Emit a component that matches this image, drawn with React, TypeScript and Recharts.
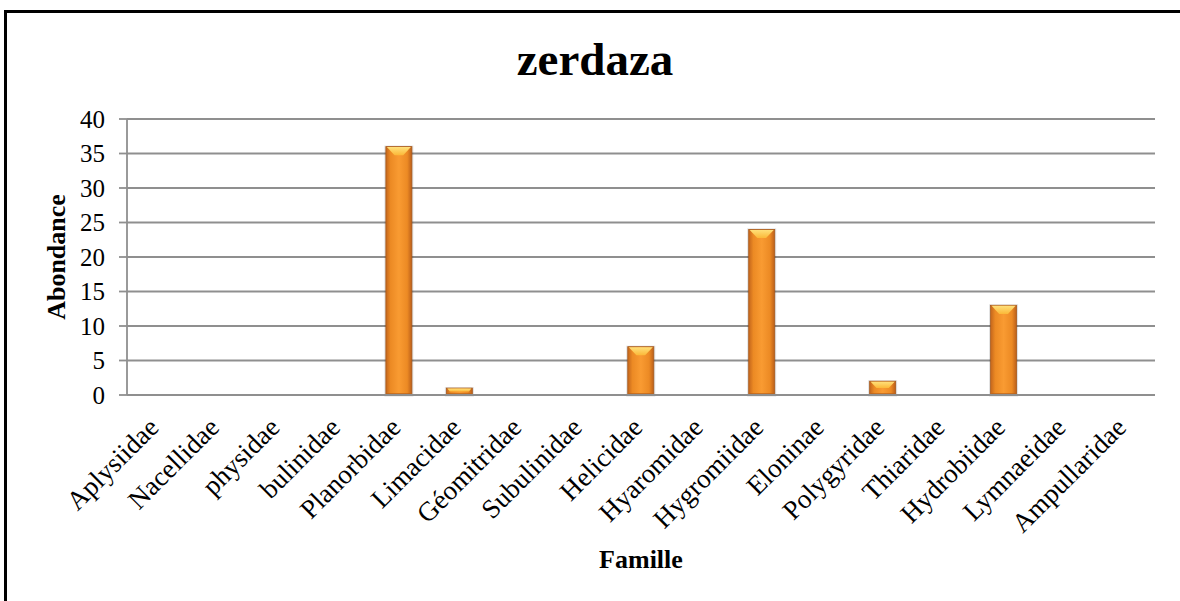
import React from 'react';
import { BarChart, Bar, XAxis, YAxis, CartesianGrid } from 'recharts';

const families = [
  'Aplysiidae', 'Nacellidae', 'physidae', 'bulinidae', 'Planorbidae', 'Limacidae',
  'Géomitridae', 'Subulinidae', 'Helicidae', 'Hyaromidae', 'Hygromiidae', 'Eloninae',
  'Polygyridae', 'Thiaridae', 'Hydrobiidae', 'Lymnaeidae', 'Ampullaridae',
];
const abundance = [0, 0, 0, 0, 36, 1, 0, 0, 7, 0, 24, 0, 2, 0, 13, 0, 0];
const yTicks = [0, 5, 10, 15, 20, 25, 30, 35, 40];
const title = 'zerdaza';
const xTitle = 'Famille';
const yTitle = 'Abondance';

const data = families.map((f, i) => ({ name: f, value: abundance[i] }));

const SERIF = '"Liberation Serif", "Times New Roman", serif';

const BarShape = (props: any) => {
  const { x, y, width, height } = props;
  if (!height || height <= 0) return null;
  const b = Math.min(10, height / 2, width / 3);
  return (
    <g>
      <rect x={x - 1.5} y={y - 1} width={width + 3} height={height + 2.5} fill="#000" opacity={0.12} />
      <rect x={x} y={y} width={width} height={height} fill="url(#barGrad)" stroke="#a85a1c" strokeWidth={0.8} />
      <polygon
        points={`${x + 1},${y + 0.5} ${x + width - 1},${y + 0.5} ${x + width - b},${y + b} ${x + b},${y + b}`}
        fill="url(#topGrad)"
      />
      <rect x={x + 1} y={y + height - 2} width={width - 2} height={2} fill="#b8621c" opacity={0.7} />
    </g>
  );
};

const XTick = (props: any) => {
  const { x, payload } = props;
  return (
    <g transform={`translate(${x + 3},${429})`}>
      <text x={0} y={0} textAnchor="end" transform="rotate(-45)" fontFamily={SERIF} fontSize={27} fill="#000">
        {payload.value}
      </text>
    </g>
  );
};

export default function App() {
  return (
    <div style={{ position: 'absolute', left: 0, top: 0, width: 1180, height: 601, background: '#fff', overflow: 'hidden' }}>
      <div style={{ position: 'absolute', left: 4, top: 10, width: 1400, height: 800, borderLeft: '3px solid #000', borderTop: '3px solid #000', boxSizing: 'border-box' }} />
      <div style={{ position: 'absolute', left: 0, top: 0 }}>
        <BarChart width={1180} height={601} data={data} margin={{ top: 119, right: 25, bottom: 0, left: 0 }} barCategoryGap={0}>
          <defs>
            <linearGradient id="barGrad" x1="0" y1="0" x2="1" y2="0">
              <stop offset="0" stopColor="#c4661c" />
              <stop offset="0.18" stopColor="#ec8a24" />
              <stop offset="0.5" stopColor="#f99b32" />
              <stop offset="0.82" stopColor="#ec8a24" />
              <stop offset="1" stopColor="#bb5f1a" />
            </linearGradient>
            <linearGradient id="topGrad" x1="0" y1="0" x2="0" y2="1">
              <stop offset="0" stopColor="#ffe07a" />
              <stop offset="1" stopColor="#fbb838" />
            </linearGradient>
          </defs>
          <CartesianGrid vertical={false} stroke="#8f8f8f" strokeWidth={1.8} />
          <XAxis
            dataKey="name"
            interval={0}
            tickLine={false}
            axisLine={{ stroke: '#8f8f8f', strokeWidth: 1.8 }}
            tick={<XTick />}
            height={206}
          />
          <YAxis
            width={127}
            domain={[0, 40]}
            ticks={yTicks}
            interval={0}
            tickSize={8}
            tickMargin={14}
            axisLine={{ stroke: '#8f8f8f', strokeWidth: 1.8 }}
            tickLine={{ stroke: '#8f8f8f', strokeWidth: 1.8 }}
            tick={{ fontFamily: SERIF, fontSize: 25, fill: '#000' }}
          />
          <Bar dataKey="value" barSize={26} isAnimationActive={false} shape={<BarShape />} />
          <text x={595} y={75} textAnchor="middle" fontFamily={SERIF} fontSize={47} fontWeight="bold" fill="#000">{title}</text>
          <text x={641} y={568} textAnchor="middle" fontFamily={SERIF} fontSize={26} fontWeight="bold" fill="#000">{xTitle}</text>
          <text x={0} y={0} transform="translate(65,257) rotate(-90)" textAnchor="middle" fontFamily={SERIF} fontSize={26} fontWeight="bold" fill="#000">{yTitle}</text>
        </BarChart>
      </div>
    </div>
  );
}
